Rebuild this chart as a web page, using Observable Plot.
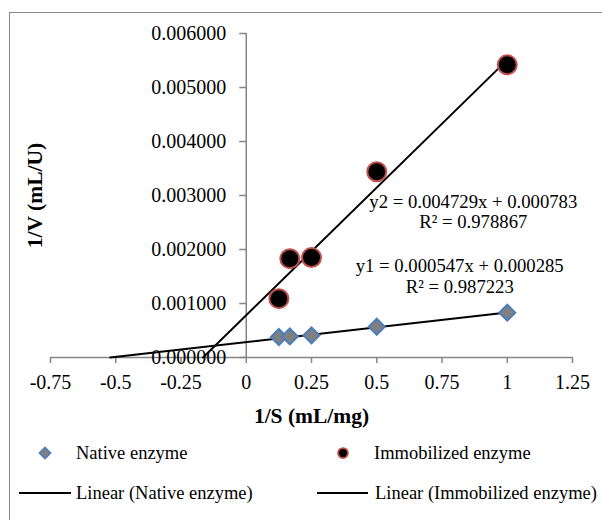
<!DOCTYPE html>
<html>
<head>
<meta charset="utf-8">
<script src="https://cdn.jsdelivr.net/npm/d3@7"></script>
<script src="https://cdn.jsdelivr.net/npm/@observablehq/plot@0.6"></script>
<style>
  html, body { margin: 0; padding: 0; background: #fff; }
  #wrap { position: relative; width: 602px; height: 520px; overflow: hidden; font-family: "Liberation Serif", "Times New Roman", serif; }
  #border { position: absolute; left: 9px; top: 12px; width: 700px; height: 600px; border: 1.5px solid #8a8a8a; box-sizing: border-box; }
  #chart { position: absolute; left: 0; top: 0; }
  #legsvg { position: absolute; left: 0; top: 0; width: 602px; height: 520px; overflow: visible; }
  .leg { position: absolute; font-size: 18.5px; color: #000; line-height: 20px; white-space: nowrap; }
</style>
</head>
<body>
<div id="wrap">
  <div id="border"></div>
  <div id="chart"></div>
  <div id="legend"></div>
</div>
<script>
// ---- data ----
const substrateInv = [0.125, 0.167, 0.25, 0.5, 1];          // 1/S (mL/mg)
const nativeV      = [0.00038, 0.00039, 0.00041, 0.00057, 0.00083];  // 1/V native
const immobV       = [0.00109, 0.00183, 0.00185, 0.00344, 0.00542];  // 1/V immobilized
const seriesNames  = ["Native enzyme", "Immobilized enzyme"];
const fitNative    = {slope: 0.000547, intercept: 0.000285, r2: "0.987223", name: "y1"};
const fitImmob     = {slope: 0.004729, intercept: 0.000783, r2: "0.978867", name: "y2"};
const xTicks = [-0.75, -0.5, -0.25, 0, 0.25, 0.5, 0.75, 1, 1.25];
const yTicks = [0, 0.001, 0.002, 0.003, 0.004, 0.005, 0.006];
const xTitle = "1/S (mL/mg)";
const yTitle = "1/V (mL/U)";
// equation label anchor positions (data units)
const eqPos = {y2: [0.87, 0.002389], y1: [0.818, 0.0012037]};

// ---- derived tables ----
const nativePts = substrateInv.map((x, i) => ({x, y: nativeV[i]}));
const immobPts  = substrateInv.map((x, i) => ({x, y: immobV[i]}));
const trend = (f) => {
  const x0 = -f.intercept / f.slope;
  const x1 = d3.max(substrateInv);
  return [{x: x0, y: 0}, {x: x1, y: f.slope * x1 + f.intercept}];
};
const eqText = (f) => `${f.name} = ${f.slope.toFixed(6)}x + ${f.intercept.toFixed(6)}\nR² = ${f.r2}`;

// custom symbols
const diamondSym = {draw(ctx, size) { const r = Math.sqrt(size / Math.PI); ctx.moveTo(0, -r); ctx.lineTo(r, 0); ctx.lineTo(0, r); ctx.lineTo(-r, 0); ctx.closePath(); }};
const tickLeft = {draw(ctx, size) { const r = Math.sqrt(size / Math.PI); ctx.moveTo(-r, 0); ctx.lineTo(0, 0); }};

const AX = "#868686";
const FONT = "'Liberation Serif', 'Times New Roman', serif";

const plot = Plot.plot({
  width: 602,
  height: 440,
  marginLeft: 50,
  marginRight: 30,
  marginTop: 33,
  marginBottom: 83,
  style: {fontFamily: FONT, fontSize: "20px", background: "transparent", overflow: "visible", color: "#000"},
  x: {type: "linear", domain: [-0.75, 1.25], axis: null},
  y: {type: "linear", domain: [0, 0.006], axis: null},
  marks: [
    // x axis
    Plot.ruleY([0], {stroke: AX, strokeWidth: 1.5}),
    Plot.axisX({ticks: xTicks, tickSize: 6, tickPadding: 11, stroke: AX, strokeWidth: 1.5, tickFormat: d => String(d), fontSize: 20, fontFamily: FONT, fill: "#000", label: null}),
    // y axis at x = 0
    Plot.ruleX([0], {y1: 0, y2: 0.006, stroke: AX, strokeWidth: 1.5}),
    Plot.dot(yTicks, {x: 0, y: d => d, symbol: tickLeft, r: 7, stroke: AX, strokeWidth: 1.5, fill: "none"}),
    Plot.text(yTicks, {x: 0, y: d => d, text: d => d3.format(".6f")(d), textAnchor: "end", dx: -20, fontSize: 20, fontFamily: FONT, fill: "#000"}),
    // titles
    Plot.text([xTitle], {frameAnchor: "bottom", text: d => d, textAnchor: "middle", lineAnchor: "bottom", dy: 65, fontSize: 21.5, fontWeight: "bold", fontFamily: FONT, fill: "#000"}),
    Plot.text([yTitle], {frameAnchor: "left", text: d => d, rotate: -90, textAnchor: "middle", lineAnchor: "middle", dx: -15, fontSize: 21.5, fontWeight: "bold", fontFamily: FONT, fill: "#000"}),
    // trendlines
    Plot.line(trend(fitNative), {x: "x", y: "y", stroke: "#000", strokeWidth: 2}),
    Plot.line(trend(fitImmob), {x: "x", y: "y", stroke: "#000", strokeWidth: 2}),
    // points
    Plot.dot(nativePts, {x: "x", y: "y", symbol: diamondSym, r: 8, fill: "#808080", stroke: "#4a7ebb", strokeWidth: 2}),
    Plot.dot(immobPts, {x: "x", y: "y", r: 9.5, fill: "#000", stroke: "#c0504d", strokeWidth: 2}),
    // equations
    Plot.text([fitImmob], {x: () => eqPos.y2[0], y: () => eqPos.y2[1], text: eqText, lineAnchor: "bottom", lineHeight: 1.12, fontSize: 18.7, fontFamily: FONT, fill: "#000"}),
    Plot.text([fitNative], {x: () => eqPos.y1[0], y: () => eqPos.y1[1], text: eqText, lineAnchor: "bottom", lineHeight: 1.08, fontSize: 18.7, fontFamily: FONT, fill: "#000"})
  ]
});
document.getElementById("chart").appendChild(plot);

// ---- legend (HTML below the SVG) ----
const legend = document.getElementById("legend");
const items = [
  {label: seriesNames[0], kind: "diamond", mx: 45, tx: 76, y: 453},
  {label: seriesNames[1], kind: "circle", mx: 343, tx: 374, y: 453},
  {label: `Linear (${seriesNames[0]})`, kind: "line", lx: [19, 71], tx: 76, y: 493},
  {label: `Linear (${seriesNames[1]})`, kind: "line", lx: [317, 368], tx: 375, y: 493}
];
const NS = "http://www.w3.org/2000/svg";
const lsvg = document.createElementNS(NS, "svg");
lsvg.setAttribute("id", "legsvg");
lsvg.setAttribute("width", 602); lsvg.setAttribute("height", 520);
legend.appendChild(lsvg);
for (const it of items) {
  let shape;
  if (it.kind === "diamond") {
    shape = document.createElementNS(NS, "path");
    const r = 5.5;
    shape.setAttribute("d", `M${it.mx},${it.y - r}L${it.mx + r},${it.y}L${it.mx},${it.y + r}L${it.mx - r},${it.y}Z`);
    shape.setAttribute("fill", "#808080"); shape.setAttribute("stroke", "#4a7ebb"); shape.setAttribute("stroke-width", 1.75);
  } else if (it.kind === "circle") {
    shape = document.createElementNS(NS, "circle");
    shape.setAttribute("cx", it.mx); shape.setAttribute("cy", it.y); shape.setAttribute("r", 5);
    shape.setAttribute("fill", "#000"); shape.setAttribute("stroke", "#c0504d"); shape.setAttribute("stroke-width", 1.75);
  } else {
    shape = document.createElementNS(NS, "line");
    shape.setAttribute("x1", it.lx[0]); shape.setAttribute("x2", it.lx[1]);
    shape.setAttribute("y1", it.y); shape.setAttribute("y2", it.y);
    shape.setAttribute("stroke", "#000"); shape.setAttribute("stroke-width", 2);
  }
  lsvg.appendChild(shape);
  const t = document.createElement("div");
  t.className = "leg";
  t.textContent = it.label;
  t.style.left = it.tx + "px";
  t.style.top = (it.y - 10) + "px";
  legend.appendChild(t);
}
</script>
</body>
</html>
